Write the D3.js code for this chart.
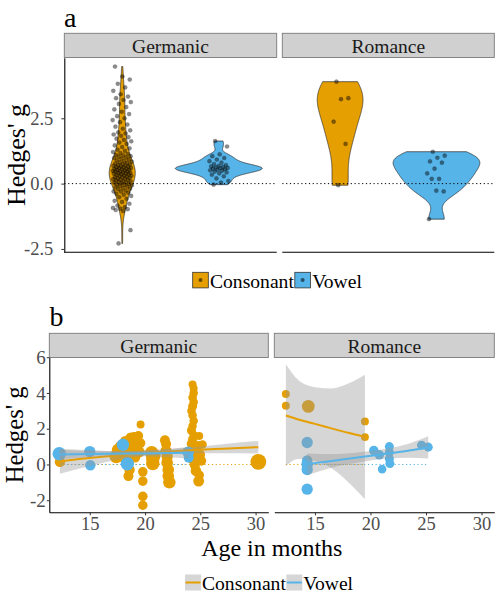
<!DOCTYPE html>
<html>
<head>
<meta charset="utf-8">
<script src="https://cdn.jsdelivr.net/npm/d3@7/dist/d3.min.js"></script>
<style>
  body { margin: 0; background: #fff; }
  svg, svg text { font-family: "Liberation Serif", "Times New Roman", serif !important; }
</style>
</head>
<body>
<svg width="500" height="600" font-family="Liberation Serif"></svg>
<script>
'use strict';

var languages = ['Germanic', 'Romance'],
    soundTypes = ['Consonant', 'Vowel'],
    colours = ['#E69F00', '#56B4E9'];

// (a) Hedges' g of each record
var gGermanicConsonant = [
    -2.29, -1.78, -1.05, -1.01, -0.98, -0.96, -0.93, -0.9,
    -0.84, -0.77, -0.7, -0.66, -0.58, -0.52, -0.47, -0.43,
    -0.39, -0.35, -0.31, -0.3, -0.27, -0.22, -0.2, -0.17, -0.14, -0.12, -0.09, -0.07, -0.05, -0.04, -0.02,
    0.01, 0.03, 0.04, 0.07, 0.09, 0.1, 0.12, 0.14, 0.15, 0.17, 0.19, 0.2, 0.22, 0.24, 0.25, 0.27,
    0.29, 0.3, 0.31, 0.33, 0.35, 0.36, 0.38, 0.39, 0.41, 0.42, 0.43, 0.45, 0.46,
    0.47, 0.49, 0.5, 0.52, 0.53, 0.55, 0.56, 0.57, 0.59, 0.6,
    0.62, 0.63, 0.65, 0.66, 0.68, 0.7, 0.71, 0.73, 0.75, 0.77,
    0.79, 0.81, 0.84, 0.86, 0.89, 0.92, 0.95, 0.98,
    1.0, 1.03, 1.05, 1.08, 1.1, 1.13, 1.17, 1.21, 1.25, 1.3, 1.35, 1.4,
    1.46, 1.52, 1.57, 1.62, 1.67, 1.72, 1.78, 1.83, 1.88, 1.92, 1.96,
    2.04, 2.1, 2.18, 2.26, 2.35, 2.43, 2.5, 2.58, 2.66, 2.75, 2.84, 2.93,
    3.05, 3.12, 3.2, 3.27, 3.33, 3.42, 3.55, 3.68, 3.82, 3.98, 4.1, 4.48
];
var gGermanicVowel = [
    1.63, 1.42, 1.12, 1.05, 0.98, 0.92, 0.86, 0.8, 0.75, 0.71, 0.68, 0.66, 0.64, 0.62, 0.6,
    0.59, 0.57, 0.55, 0.53, 0.51, 0.49, 0.46, 0.43, 0.39, 0.34, 0.28, 0.2, 0.1, 0.04, -0.04
];
var gRomanceConsonant = [3.9, 3.27, 3.23, 2.37, 1.52, -0.06];
var gRomanceVowel = [1.22, 1.07, 0.99, 0.85, 0.8, 0.57, 0.39, 0.18, 0.18, -0.3, -0.27, -1.36];

// (b) [age in months, Hedges' g, sample size]
var ageGermanicConsonant = [
    [12.3, 0.15, 24],
    [17.4, 0.45, 40], [17.6, 0.8, 40], [17.8, 1.0, 30], [18.0, 0.55, 34], [18.2, 1.3, 24],
    [18.3, 0.25, 30], [18.5, -0.65, 22], [18.6, -0.3, 24], [18.7, 1.5, 24], [18.8, 0.85, 30],
    [18.9, 1.1, 30], [19.0, 1.55, 20], [19.1, 0.4, 24], [19.2, 1.25, 24], [19.3, 0.95, 24],
    [19.4, 1.6, 20], [19.5, 0.7, 24], [19.6, 2.24, 14], [19.6, 1.2, 20],
    [19.8, -0.41, 20], [19.8, -0.93, 20], [19.8, -1.78, 20], [19.8, -2.28, 20],
    [20.6, 0.65, 40], [20.7, 0.35, 40], [20.7, 0.05, 40], [20.8, 0.5, 40],
    [21.8, 1.35, 22], [21.9, 1.15, 22], [21.9, 0.75, 28], [22.0, 0.45, 28], [22.0, 0.1, 30],
    [22.1, -0.3, 30], [22.1, -0.65, 30], [22.2, -1.0, 34],
    [24.3, 4.48, 14], [24.4, 4.25, 14], [24.4, 4.0, 16], [24.3, 3.75, 16], [24.4, 3.5, 16],
    [24.3, 3.25, 18], [24.2, 3.0, 16], [24.3, 2.75, 16], [24.4, 2.45, 16], [24.3, 2.15, 16],
    [24.2, 1.9, 18], [24.4, 1.65, 16], [24.3, 1.4, 18], [24.2, 1.15, 20], [24.5, 0.9, 20],
    [24.4, 0.6, 24], [24.3, 0.3, 24], [24.5, 0.0, 24], [24.6, -0.35, 24], [24.6, 0.75, 20],
    [24.8, 1.05, 20], [24.9, 1.59, 14], [25.2, 1.12, 16], [25.0, 0.55, 20], [25.1, 0.2, 20],
    [24.9, -0.6, 20], [24.85, -0.93, 26],
    [30.25, 0.15, 55]
];
var ageGermanicVowel = [
    [12.24, 0.6, 40], [15.0, 0.72, 28], [15.05, -0.04, 24], [18.0, 1.1, 34],
    [18.4, 0.04, 40], [23.9, 0.68, 30], [23.95, 0.38, 22]
];
var ageRomanceConsonant = [
    [14.3, -0.06, 14], [12.38, 3.94, 14], [12.38, 3.29, 14], [14.4, 3.25, 36],
    [19.5, 2.41, 14], [19.5, 1.53, 14]
];
var ageRomanceVowel = [
    [14.3, 1.23, 28], [14.3, 0.22, 24], [14.3, 0.02, 30], [14.3, -0.28, 28], [14.3, -1.38, 28],
    [20.3, 0.78, 20], [20.8, 0.54, 20], [21.05, -0.26, 16], [21.7, 1.0, 18], [21.7, 0.68, 18],
    [21.7, 0.32, 18], [21.75, 0.05, 18], [24.6, 1.08, 18], [25.2, 0.97, 18]
];

// (b) fitted line and confidence band: [age, fit, lower, upper]
var fitGermanicConsonant = [
    [12.3, 0.17, -0.52, 0.86], [15, 0.36, -0.08, 0.8], [18, 0.53, 0.32, 0.74], [21, 0.67, 0.54, 0.8],
    [24, 0.79, 0.63, 0.95], [27, 0.88, 0.63, 1.13], [30.25, 0.97, 0.62, 1.32]
];
var fitGermanicVowel = [
    [12.24, 0.56, 0.28, 0.84], [15, 0.58, 0.4, 0.76], [18, 0.61, 0.47, 0.75],
    [21, 0.63, 0.43, 0.83], [23.95, 0.66, 0.34, 0.98]
];
var fitRomanceConsonant = [
    [12.38, 2.74, -0.1, 5.6], [13.5, 2.52, 0.3, 4.72], [15, 2.27, 0.2, 4.32],
    [16.5, 2.02, -0.21, 4.25], [18, 1.77, -0.99, 4.53], [19.5, 1.54, -1.94, 5.02]
];
var fitRomanceVowel = [
    [14.3, 0.02, -0.6, 0.62], [16.5, 0.2, -0.18, 0.58], [19, 0.4, 0.12, 0.68],
    [21.5, 0.61, 0.33, 0.89], [23.5, 0.78, 0.38, 1.18], [25.2, 0.95, 0.34, 1.58]
];

var ticksA = [-2.5, 0, 2.5],
    ticksBy = [-2, 0, 2, 4, 6],
    ticksBx = [15, 20, 25, 30];

var violinData = [[gGermanicConsonant, gGermanicVowel], [gRomanceConsonant, gRomanceVowel]],
    pointsB = [[ageGermanicConsonant, ageGermanicVowel], [ageRomanceConsonant, ageRomanceVowel]],
    fitsB = [[fitGermanicConsonant, fitGermanicVowel], [fitRomanceConsonant, fitRomanceVowel]];

var SERIF = '"Liberation Serif", "Times New Roman", serif';
var svg = d3.select('svg');

var panelA = {top: 57.7, bottom: 252.3, strip: 33.3, xs: [[64.3, 276.7], [282.3, 494.3]]},
    panelB = {top: 357.3, bottom: 512.3, strip: 333.3, xs: [[49.3, 268.3], [274.3, 494.3]]};

// ggplot style 5% expansion
function padExtent(values) {
    var ext = d3.extent(values), pad = (ext[1] - ext[0]) * 0.05;
    return [ext[0] - pad, ext[1] + pad];
}

// bw.nrd0 and a trimmed gaussian density, as geom_violin does
function bwNrd0(v) {
    var s = d3.deviation(v),
        iqr = d3.quantile(v, 0.75) - d3.quantile(v, 0.25),
        lo = Math.min(s, iqr / 1.34) || s || 1;
    return 0.9 * lo * Math.pow(v.length, -0.2);
}
function kde(v) {
    var bw = bwNrd0(v), ext = d3.extent(v), n = 256;
    return d3.range(n).map(function (i) {
        var y = ext[0] + (ext[1] - ext[0]) * i / (n - 1);
        var d = d3.sum(v, function (x) {
            var u = (y - x) / bw;
            return Math.exp(-0.5 * u * u);
        });
        return {y: y, density: d / (v.length * bw * Math.sqrt(2 * Math.PI))};
    });
}

// fixed spread for the jittered points
function jitter(i) {
    return ((i * 0.6180339887 + 0.31) % 1) * 2 - 1;
}

function label(sel) {
    return sel.append('text').style('font-family', SERIF);
}

function strip(x0, x1, y0, text) {
    svg.append('rect')
        .attr('x', x0).attr('y', y0).attr('width', x1 - x0).attr('height', 24.2)
        .attr('fill', '#d0d0d0').attr('stroke', '#7a7a7a').attr('stroke-width', 0.9);
    label(svg)
        .attr('x', (x0 + x1) / 2).attr('y', y0 + 19.5)
        .attr('text-anchor', 'middle').attr('font-size', 19.5).attr('fill', '#1a1a1a')
        .text(text);
}

function styleAxis(sel, size) {
    sel.attr('font-family', SERIF);
    sel.select('.domain').attr('stroke', '#000').attr('stroke-width', 1.1);
    sel.selectAll('.tick line').attr('stroke', '#333');
    sel.selectAll('.tick text').attr('fill', '#4d4d4d').attr('font-size', size)
        .style('font-family', SERIF);
}

function fmt(d) {
    return (d < 0 ? '-' : '') + Math.abs(d);
}

/* ---------- panel a ---------- */
var yA = d3.scaleLinear()
    .domain(padExtent(d3.merge(d3.merge(violinData))))
    .range([panelA.bottom, panelA.top]);

languages.forEach(function (lang, p) {
    var xr = panelA.xs[p],
        x = d3.scalePoint().domain(soundTypes).range(xr).padding(0.6),
        half = x.step() * 0.45,
        g = svg.append('g');

    strip(xr[0], xr[1], panelA.strip, lang);

    var dens = violinData[p].map(kde),
        maxD = d3.max(dens, function (d) { return d3.max(d, function (e) { return e.density; }); });

    dens.forEach(function (d, k) {
        var cx = x(soundTypes[k]);
        g.append('path').datum(d)
            .attr('d', d3.area()
                .x0(function (e) { return cx - e.density / maxD * half; })
                .x1(function (e) { return cx + e.density / maxD * half; })
                .y(function (e) { return yA(e.y); }))
            .attr('fill', colours[k]).attr('stroke', '#2a2a2a').attr('stroke-width', 0.7);
    });

    g.append('line')
        .attr('x1', xr[0]).attr('x2', xr[1]).attr('y1', yA(0)).attr('y2', yA(0))
        .attr('stroke', '#000').attr('stroke-width', 1).attr('stroke-dasharray', '1.2,2.6');

    violinData[p].forEach(function (v, k) {
        g.selectAll(null).data(v).enter().append('circle')
            .attr('cx', function (d, i) { return x(soundTypes[k]) + jitter(i) * x.step() * 0.1; })
            .attr('cy', function (d) { return yA(d); })
            .attr('r', 2.1)
            .attr('fill', '#000').attr('fill-opacity', 0.45)
            .attr('stroke', '#000').attr('stroke-opacity', 0.25).attr('stroke-width', 0.5);
    });

    g.append('line')
        .attr('x1', xr[0]).attr('x2', xr[1]).attr('y1', panelA.bottom).attr('y2', panelA.bottom)
        .attr('stroke', '#000').attr('stroke-width', 1.1);
});

svg.append('g')
    .attr('transform', 'translate(' + panelA.xs[0][0] + ',0)')
    .call(d3.axisLeft(yA).tickValues(ticksA).tickFormat(function (d) {
        return (d < 0 ? '-' : '') + Math.abs(d).toFixed(1);
    }).tickSize(3).tickSizeOuter(0).tickPadding(8))
    .call(styleAxis, 18.5);

label(svg).attr('x', 64).attr('y', 27).attr('font-size', 28).text('a');
label(svg)
    .attr('transform', 'translate(25,' + (panelA.top + panelA.bottom) / 2 + ') rotate(-90)')
    .attr('text-anchor', 'middle').attr('font-size', 26).text("Hedges' g");

// legend a
var legA = svg.append('g'), cursor = 192.7;
soundTypes.forEach(function (s, k) {
    legA.append('rect')
        .attr('x', cursor).attr('y', 272.3).attr('width', 15.6).attr('height', 15.6)
        .attr('fill', colours[k]).attr('stroke', '#333').attr('stroke-width', 0.8);
    legA.append('circle')
        .attr('cx', cursor + 7.8).attr('cy', 280.1).attr('r', 2)
        .attr('fill', '#000').attr('fill-opacity', 0.55);
    var t = label(legA)
        .attr('x', cursor + 17.3).attr('y', 288.2).attr('font-size', 19.6).text(s);
    cursor += 17.3 + t.node().getComputedTextLength() + 1;
});

/* ---------- panel b ---------- */
var allAges = [], allG = [], allN = [];
pointsB.forEach(function (row) {
    row.forEach(function (pts) {
        pts.forEach(function (d) { allAges.push(d[0]); allG.push(d[1]); allN.push(d[2]); });
    });
});
fitsB.forEach(function (row) {
    row.forEach(function (f) {
        f.forEach(function (d) { allG.push(d[2], d[3]); });
    });
});

var yB = d3.scaleLinear().domain(padExtent(allG)).range([panelB.bottom, panelB.top]),
    xDomain = padExtent(allAges),
    radius = d3.scaleSqrt().domain([0, d3.max(allN)]).range([0, 7.9]);

languages.forEach(function (lang, p) {
    var xr = panelB.xs[p],
        x = d3.scaleLinear().domain(xDomain).range(xr),
        g = svg.append('g');

    strip(xr[0], xr[1], panelB.strip, lang);

    // zero reference over each group's age range
    pointsB[p].forEach(function (pts, k) {
        var ext = d3.extent(pts, function (d) { return d[0]; });
        g.append('line')
            .attr('x1', x(ext[0])).attr('x2', x(ext[1])).attr('y1', yB(0)).attr('y2', yB(0))
            .attr('stroke', colours[k]).attr('stroke-width', 1).attr('stroke-dasharray', '1.2,2.6');
    });

    pointsB[p].forEach(function (pts, k) {
        g.selectAll(null).data(pts).enter().append('circle')
            .attr('cx', function (d) { return x(d[0]); })
            .attr('cy', function (d) { return yB(d[1]); })
            .attr('r', function (d) { return radius(d[2]); })
            .attr('fill', colours[k]);
    });

    fitsB[p].forEach(function (f, k) {
        g.append('path').datum(f)
            .attr('d', d3.area().curve(d3.curveMonotoneX)
                .x(function (d) { return x(d[0]); })
                .y0(function (d) { return yB(d[2]); })
                .y1(function (d) { return yB(d[3]); }))
            .attr('fill', '#999').attr('fill-opacity', 0.4);
        g.append('path').datum(f)
            .attr('d', d3.line().curve(d3.curveMonotoneX)
                .x(function (d) { return x(d[0]); })
                .y(function (d) { return yB(d[1]); }))
            .attr('fill', 'none').attr('stroke', colours[k]).attr('stroke-width', 2);
    });

    svg.append('g')
        .attr('transform', 'translate(0,' + panelB.bottom + ')')
        .call(d3.axisBottom(x).tickValues(ticksBx).tickSize(3).tickSizeOuter(0).tickPadding(2))
        .call(styleAxis, 18.5);
});

svg.append('g')
    .attr('transform', 'translate(' + panelB.xs[0][0] + ',0)')
    .call(d3.axisLeft(yB).tickValues(ticksBy).tickFormat(fmt).tickSize(2.5).tickSizeOuter(0).tickPadding(1))
    .call(styleAxis, 19);

label(svg).attr('x', 49.5).attr('y', 326).attr('font-size', 28).text('b');
label(svg)
    .attr('transform', 'translate(23,' + (panelB.top + panelB.bottom) / 2 + ') rotate(-90)')
    .attr('text-anchor', 'middle').attr('font-size', 24.7).text("Hedges' g");
label(svg)
    .attr('x', (panelB.xs[0][0] + panelB.xs[1][1]) / 2).attr('y', 555.5)
    .attr('text-anchor', 'middle').attr('font-size', 24).text('Age in months');

// legend b
var legB = svg.append('g');
cursor = 185;
soundTypes.forEach(function (s, k) {
    legB.append('rect')
        .attr('x', cursor).attr('y', 574.5).attr('width', 16).attr('height', 16)
        .attr('fill', '#999').attr('fill-opacity', 0.4);
    legB.append('line')
        .attr('x1', cursor + 0.5).attr('x2', cursor + 15.5).attr('y1', 582.5).attr('y2', 582.5)
        .attr('stroke', colours[k]).attr('stroke-width', 2);
    var t = label(legB)
        .attr('x', cursor + 17).attr('y', 590).attr('font-size', 19.6).text(s);
    cursor += 17 + t.node().getComputedTextLength() + 0.5;
});
</script>
</body>
</html>
